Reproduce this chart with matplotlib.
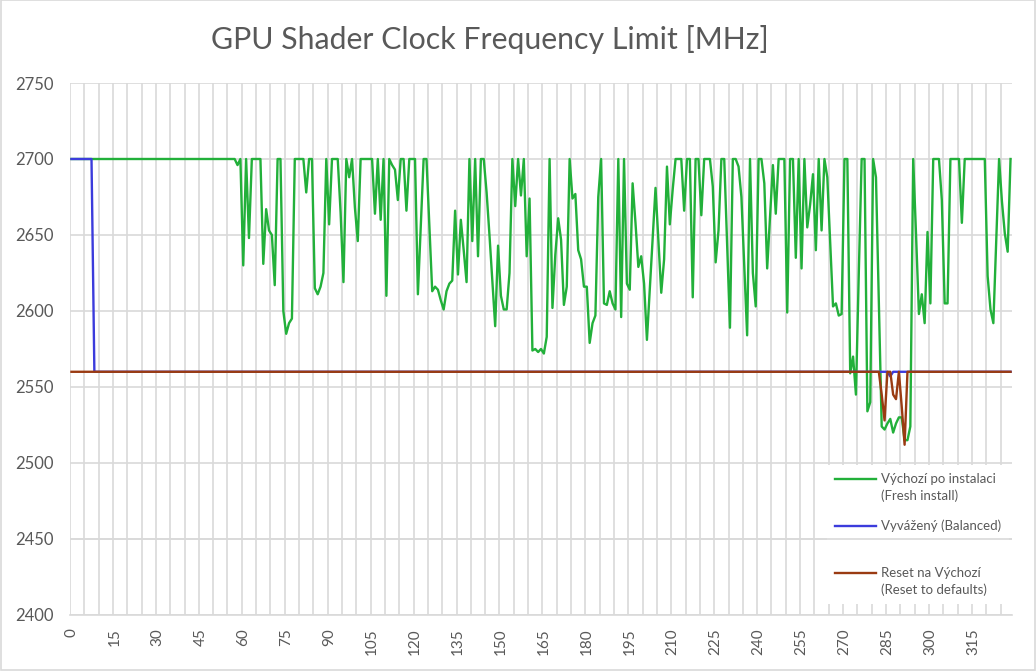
import matplotlib
matplotlib.use('Agg')
import matplotlib.pyplot as plt
from matplotlib.legend_handler import HandlerLine2D
from matplotlib.patches import Rectangle

plt.rcParams['font.family'] = ['Lato', 'DejaVu Sans']

title = 'GPU Shader Clock Frequency Limit [MHz]'
labels = ['Výchozí po instalaci\n(Fresh install)',
          'Vyvážený (Balanced)\n ',
          'Reset na Výchozí\n(Reset to defaults)']
colors = ['#22B03A', '#3C3CDC', '#9A3B12']

# one value per sample, 329 samples
fresh = [
    2700, 2700, 2700, 2700, 2700, 2700, 2700, 2700, 2700, 2700, 2700, 2700, 2700, 2700, 2700, 2700, 2700, 2700, 2700, 2700,
    2700, 2700, 2700, 2700, 2700, 2700, 2700, 2700, 2700, 2700, 2700, 2700, 2700, 2700, 2700, 2700, 2700, 2700, 2700, 2700,
    2700, 2700, 2700, 2700, 2700, 2700, 2700, 2700, 2700, 2700, 2700, 2700, 2700, 2700, 2700, 2700, 2700, 2700, 2696, 2700,
    2630, 2700, 2648, 2700, 2700, 2700, 2700, 2631, 2667, 2653, 2650, 2617, 2700, 2700, 2600, 2585, 2592, 2595, 2700, 2700,
    2700, 2700, 2678, 2700, 2700, 2615, 2611, 2616, 2625, 2700, 2657, 2700, 2700, 2700, 2665, 2619, 2700, 2688, 2700, 2668,
    2646, 2700, 2700, 2700, 2700, 2700, 2664, 2700, 2660, 2700, 2610, 2700, 2696, 2693, 2673, 2700, 2700, 2666, 2700, 2700,
    2700, 2611, 2655, 2700, 2700, 2657, 2613, 2616, 2614, 2607, 2601, 2613, 2618, 2620, 2666, 2624, 2660, 2640, 2619, 2700,
    2646, 2700, 2636, 2700, 2700, 2678, 2650, 2620, 2590, 2643, 2610, 2601, 2601, 2625, 2700, 2669, 2700, 2676, 2700, 2636,
    2674, 2574, 2575, 2573, 2575, 2572, 2583, 2700, 2602, 2637, 2661, 2647, 2604, 2616, 2700, 2674, 2677, 2640, 2634, 2616,
    2616, 2579, 2592, 2597, 2675, 2700, 2605, 2604, 2613, 2605, 2601, 2700, 2596, 2700, 2618, 2614, 2684, 2658, 2629, 2636,
    2618, 2581, 2614, 2648, 2681, 2646, 2612, 2634, 2695, 2657, 2680, 2700, 2700, 2700, 2666, 2700, 2700, 2609, 2700, 2700,
    2663, 2700, 2700, 2700, 2682, 2632, 2653, 2700, 2700, 2645, 2589, 2700, 2700, 2695, 2675, 2630, 2584, 2700, 2625, 2603,
    2700, 2700, 2684, 2628, 2662, 2696, 2664, 2700, 2700, 2700, 2599, 2700, 2700, 2635, 2700, 2628, 2700, 2655, 2670, 2690,
    2640, 2700, 2653, 2700, 2688, 2645, 2603, 2605, 2597, 2598, 2700, 2700, 2559, 2570, 2545, 2625, 2700, 2700, 2534, 2540,
    2700, 2688, 2605, 2524, 2522, 2526, 2529, 2520, 2526, 2530, 2530, 2515, 2515, 2524, 2700, 2650, 2598, 2611, 2592, 2652,
    2605, 2700, 2700, 2700, 2673, 2605, 2605, 2700, 2700, 2700, 2700, 2658, 2700, 2700, 2700, 2700, 2700, 2700, 2700, 2700,
    2623, 2601, 2592, 2646, 2700, 2672, 2651, 2639, 2700,
]

balanced = [
    2700, 2700, 2700, 2700, 2700, 2700, 2700, 2700, 2560, 2560, 2560, 2560, 2560, 2560, 2560, 2560, 2560, 2560, 2560, 2560,
    2560, 2560, 2560, 2560, 2560, 2560, 2560, 2560, 2560, 2560, 2560, 2560, 2560, 2560, 2560, 2560, 2560, 2560, 2560, 2560,
    2560, 2560, 2560, 2560, 2560, 2560, 2560, 2560, 2560, 2560, 2560, 2560, 2560, 2560, 2560, 2560, 2560, 2560, 2560, 2560,
    2560, 2560, 2560, 2560, 2560, 2560, 2560, 2560, 2560, 2560, 2560, 2560, 2560, 2560, 2560, 2560, 2560, 2560, 2560, 2560,
    2560, 2560, 2560, 2560, 2560, 2560, 2560, 2560, 2560, 2560, 2560, 2560, 2560, 2560, 2560, 2560, 2560, 2560, 2560, 2560,
    2560, 2560, 2560, 2560, 2560, 2560, 2560, 2560, 2560, 2560, 2560, 2560, 2560, 2560, 2560, 2560, 2560, 2560, 2560, 2560,
    2560, 2560, 2560, 2560, 2560, 2560, 2560, 2560, 2560, 2560, 2560, 2560, 2560, 2560, 2560, 2560, 2560, 2560, 2560, 2560,
    2560, 2560, 2560, 2560, 2560, 2560, 2560, 2560, 2560, 2560, 2560, 2560, 2560, 2560, 2560, 2560, 2560, 2560, 2560, 2560,
    2560, 2560, 2560, 2560, 2560, 2560, 2560, 2560, 2560, 2560, 2560, 2560, 2560, 2560, 2560, 2560, 2560, 2560, 2560, 2560,
    2560, 2560, 2560, 2560, 2560, 2560, 2560, 2560, 2560, 2560, 2560, 2560, 2560, 2560, 2560, 2560, 2560, 2560, 2560, 2560,
    2560, 2560, 2560, 2560, 2560, 2560, 2560, 2560, 2560, 2560, 2560, 2560, 2560, 2560, 2560, 2560, 2560, 2560, 2560, 2560,
    2560, 2560, 2560, 2560, 2560, 2560, 2560, 2560, 2560, 2560, 2560, 2560, 2560, 2560, 2560, 2560, 2560, 2560, 2560, 2560,
    2560, 2560, 2560, 2560, 2560, 2560, 2560, 2560, 2560, 2560, 2560, 2560, 2560, 2560, 2560, 2560, 2560, 2560, 2560, 2560,
    2560, 2560, 2560, 2560, 2560, 2560, 2560, 2560, 2560, 2560, 2560, 2560, 2560, 2560, 2560, 2560, 2560, 2560, 2560, 2560,
    2560, 2560, 2560, 2560, 2560, 2560, 2557, 2560, 2560, 2560, 2560, 2560, 2560, 2560, 2560, 2560, 2560, 2560, 2560, 2560,
    2560, 2560, 2560, 2560, 2560, 2560, 2560, 2560, 2560, 2560, 2560, 2560, 2560, 2560, 2560, 2560, 2560, 2560, 2560, 2560,
    2560, 2560, 2560, 2560, 2560, 2560, 2560, 2560, 2560,
]

reset = [
    2560, 2560, 2560, 2560, 2560, 2560, 2560, 2560, 2560, 2560, 2560, 2560, 2560, 2560, 2560, 2560, 2560, 2560, 2560, 2560,
    2560, 2560, 2560, 2560, 2560, 2560, 2560, 2560, 2560, 2560, 2560, 2560, 2560, 2560, 2560, 2560, 2560, 2560, 2560, 2560,
    2560, 2560, 2560, 2560, 2560, 2560, 2560, 2560, 2560, 2560, 2560, 2560, 2560, 2560, 2560, 2560, 2560, 2560, 2560, 2560,
    2560, 2560, 2560, 2560, 2560, 2560, 2560, 2560, 2560, 2560, 2560, 2560, 2560, 2560, 2560, 2560, 2560, 2560, 2560, 2560,
    2560, 2560, 2560, 2560, 2560, 2560, 2560, 2560, 2560, 2560, 2560, 2560, 2560, 2560, 2560, 2560, 2560, 2560, 2560, 2560,
    2560, 2560, 2560, 2560, 2560, 2560, 2560, 2560, 2560, 2560, 2560, 2560, 2560, 2560, 2560, 2560, 2560, 2560, 2560, 2560,
    2560, 2560, 2560, 2560, 2560, 2560, 2560, 2560, 2560, 2560, 2560, 2560, 2560, 2560, 2560, 2560, 2560, 2560, 2560, 2560,
    2560, 2560, 2560, 2560, 2560, 2560, 2560, 2560, 2560, 2560, 2560, 2560, 2560, 2560, 2560, 2560, 2560, 2560, 2560, 2560,
    2560, 2560, 2560, 2560, 2560, 2560, 2560, 2560, 2560, 2560, 2560, 2560, 2560, 2560, 2560, 2560, 2560, 2560, 2560, 2560,
    2560, 2560, 2560, 2560, 2560, 2560, 2560, 2560, 2560, 2560, 2560, 2560, 2560, 2560, 2560, 2560, 2560, 2560, 2560, 2560,
    2560, 2560, 2560, 2560, 2560, 2560, 2560, 2560, 2560, 2560, 2560, 2560, 2560, 2560, 2560, 2560, 2560, 2560, 2560, 2560,
    2560, 2560, 2560, 2560, 2560, 2560, 2560, 2560, 2560, 2560, 2560, 2560, 2560, 2560, 2560, 2560, 2560, 2560, 2560, 2560,
    2560, 2560, 2560, 2560, 2560, 2560, 2560, 2560, 2560, 2560, 2560, 2560, 2560, 2560, 2560, 2560, 2560, 2560, 2560, 2560,
    2560, 2560, 2560, 2560, 2560, 2560, 2560, 2560, 2560, 2560, 2560, 2560, 2560, 2560, 2560, 2560, 2560, 2560, 2560, 2560,
    2560, 2560, 2560, 2545, 2528, 2560, 2560, 2545, 2542, 2560, 2537, 2512, 2560, 2560, 2560, 2560, 2560, 2560, 2560, 2560,
    2560, 2560, 2560, 2560, 2560, 2560, 2560, 2560, 2560, 2560, 2560, 2560, 2560, 2560, 2560, 2560, 2560, 2560, 2560, 2560,
    2560, 2560, 2560, 2560, 2560, 2560, 2560, 2560, 2560,
]

y_ticks = [2400, 2450, 2500, 2550, 2600, 2650, 2700, 2750]
x_ticks = [0, 15, 30, 45, 60, 75, 90, 105, 120, 135, 150, 165, 180, 195, 210,
           225, 240, 255, 270, 285, 300, 315]

grid_c = '#D9D9D9'
text_c = '#595959'
leg_size = 9.5


class FirstLineHandler(HandlerLine2D):
    # excel puts the legend line next to the first line of the label
    def create_artists(self, legend, orig_handle, xdescent, ydescent, width, height, fontsize, trans):
        arts = super().create_artists(legend, orig_handle, xdescent, ydescent, width, height, fontsize, trans)
        for a in arts:
            a.set_ydata([y + 0.66 * fontsize for y in a.get_ydata()])
        return arts


fig = plt.figure(figsize=(10.36, 6.71), dpi=100)
ax = fig.add_subplot(111)
fig.subplots_adjust(left=0.0676, right=0.9768, top=0.8763, bottom=0.0835)

n = len(fresh)
xs = list(range(n))
lines = []
for data, c, lab in zip([fresh, balanced, reset], colors, labels):
    l, = ax.plot(xs, data, color=c, lw=1.7, label=lab, solid_joinstyle='round', zorder=3)
    lines.append(l)

ax.set_xlim(-0.5, n - 0.5)
ax.set_ylim(2400, 2750)
ax.set_yticks(y_ticks)
ax.set_xticks(x_ticks)
ax.set_xticks([i - 0.5 for i in range(0, n, 5)], minor=True)
ax.tick_params(axis='x', which='both', length=0, pad=9.5, labelsize=11, labelcolor=text_c, labelrotation=90)
ax.tick_params(axis='y', length=0, pad=12, labelsize=12, labelcolor=text_c)
ax.grid(True, axis='y', which='major', color=grid_c, lw=1.2)
ax.grid(True, axis='x', which='minor', color=grid_c, lw=1.2)
ax.grid(False, axis='x', which='major')
ax.set_axisbelow(True)
for s in ['top', 'left', 'right']:
    ax.spines[s].set_visible(False)
ax.spines['bottom'].set_color(grid_c)
ax.spines['bottom'].set_linewidth(1.2)

leg = ax.legend(handles=lines, loc='upper left', bbox_to_anchor=(0.797, 0.295),
                fontsize=leg_size, frameon=True, facecolor='white', edgecolor='none', fancybox=False,
                framealpha=1, handlelength=3.1, handletextpad=0.4, labelspacing=1.33,
                borderpad=0.6, labelcolor=text_c,
                handler_map={l: FirstLineHandler() for l in lines})
for t in leg.get_texts():
    t.set_linespacing(1.485)

# the 2450 gridline shows through the legend box in the original
ax.axhline(2450, color=grid_c, lw=1.2, zorder=6)

fig.text(490 / 1036, 1 - 40 / 671, title, ha='center', va='center', fontsize=21.8, color=text_c)
fig.patches.append(Rectangle((0.0005, 0.0008), 0.999, 0.9985, transform=fig.transFigure,
                             fill=False, edgecolor=grid_c, lw=1.2))

fig.savefig('out.png', dpi=100)
